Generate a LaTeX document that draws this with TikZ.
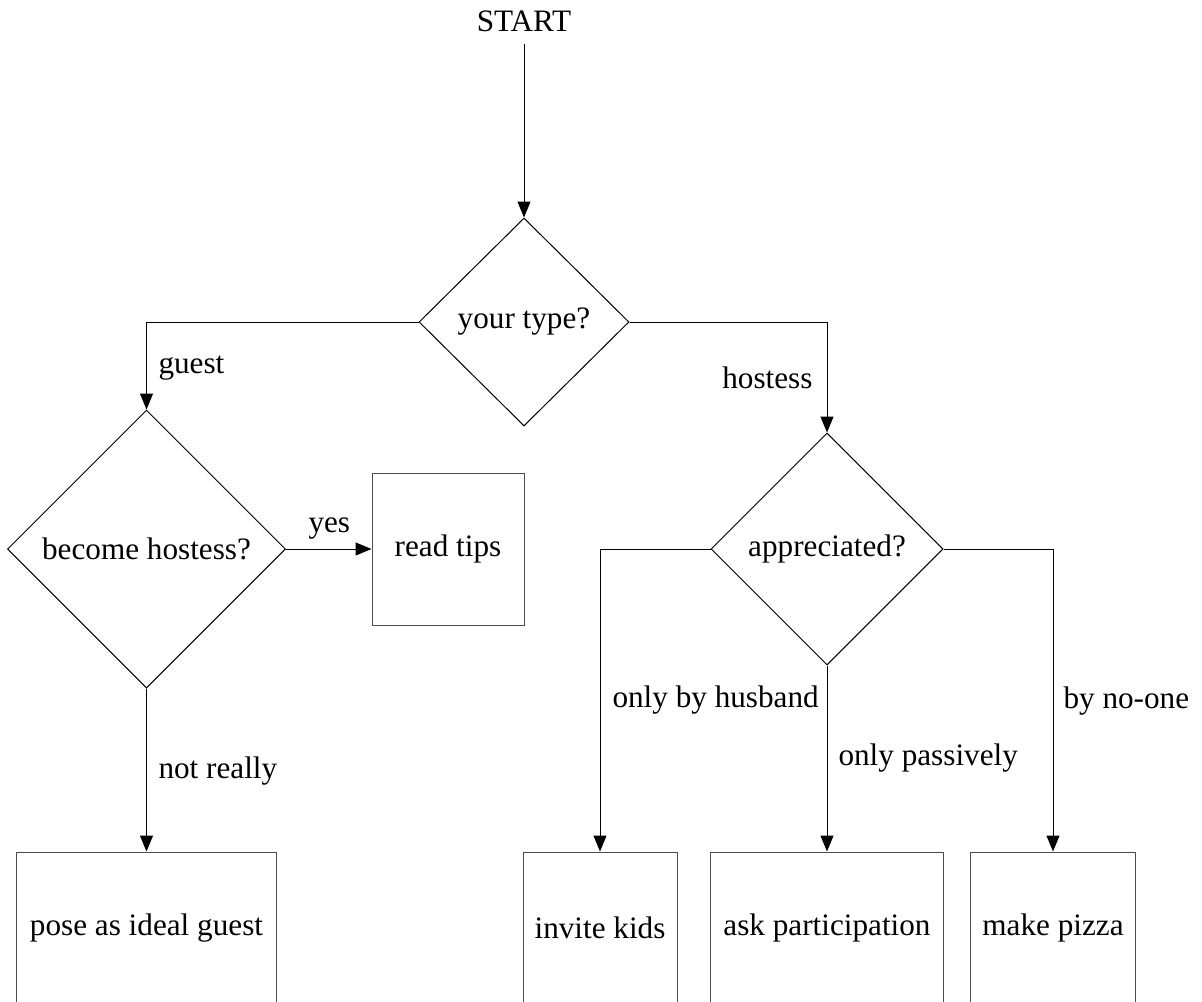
\documentclass[tikz,border=0pt]{standalone}
\usepackage{fontspec}
\setmainfont{Liberation Serif}
\usetikzlibrary{shapes.geometric,arrows.meta}

\begin{document}
\begin{tikzpicture}[
  x=0.5pt, y=-0.5pt,
  line width=0.5pt,
  every node/.style={font=\fontsize{15.6}{18}\selectfont},
  decision/.style={diamond, draw=black, inner sep=0pt, align=center},
  action/.style={rectangle, draw=black!70, inner sep=0pt, align=center},
  flow/.style={draw=black, -{Triangle[length=8pt,width=6.5pt]}},
  lbl/.style={inner sep=0pt}
]
\useasboundingbox (0,0) rectangle (1202,1001);
\clip (0,0) rectangle (1202,1001);

% start and decisions
\node[inner sep=5.5pt, anchor=base] (start) at (524,32) {START};
\node[decision, minimum width=105pt, minimum height=104pt] (type) at (524,322) {your type?};
\node[decision, minimum width=139pt, minimum height=139pt] (bh) at (146.5,549) {become hostess?};
\node[decision, minimum width=116pt, minimum height=116pt] (appr) at (827,549) {appreciated?};

% actions
\node[action, minimum width=76pt, minimum height=76pt] (tips) at (448,549) {read tips};
\node[action, minimum width=130pt, minimum height=76pt] (pose) at (146.5,928) {pose as ideal guest};
\node[action, minimum width=77pt, minimum height=76pt] (kids) at (600,928) {invite kids};
\node[action, minimum width=116.5pt, minimum height=76pt] (ask) at (827,928) {ask participation};
\node[action, minimum width=82.5pt, minimum height=76pt] (pizza) at (1053,928) {make pizza};

% connectors
\draw[flow] (start) -- (type.north);
\draw[flow] (type.west) -| (bh.north);
\draw[flow] (type.east) -| (appr.north);
\draw[flow] (bh.east) -- (tips.west);
\draw[flow] (bh.south) -- (pose.north);
\draw[flow] (appr.west) -| (kids.north);
\draw[flow] (appr.south) -- (ask.north);
\draw[flow] (appr.east) -| (pizza.north);

% branch labels
\node[lbl, anchor=base west] (lguest) at (158,373) {guest};
\node[lbl, anchor=base east] (lhostess) at (813,388) {hostess};
\node[lbl, anchor=base west] (lyes) at (308,532) {yes};
\node[lbl, anchor=base west] (lnot) at (158,778) {not really};
\node[lbl, anchor=base west] (lhusband) at (612,707) {only by husband};
\node[lbl, anchor=base west] (lpassive) at (838,765) {only passively};
\node[lbl, anchor=base west] (lnoone) at (1063,708) {by no-one};
\end{tikzpicture}
\end{document}
